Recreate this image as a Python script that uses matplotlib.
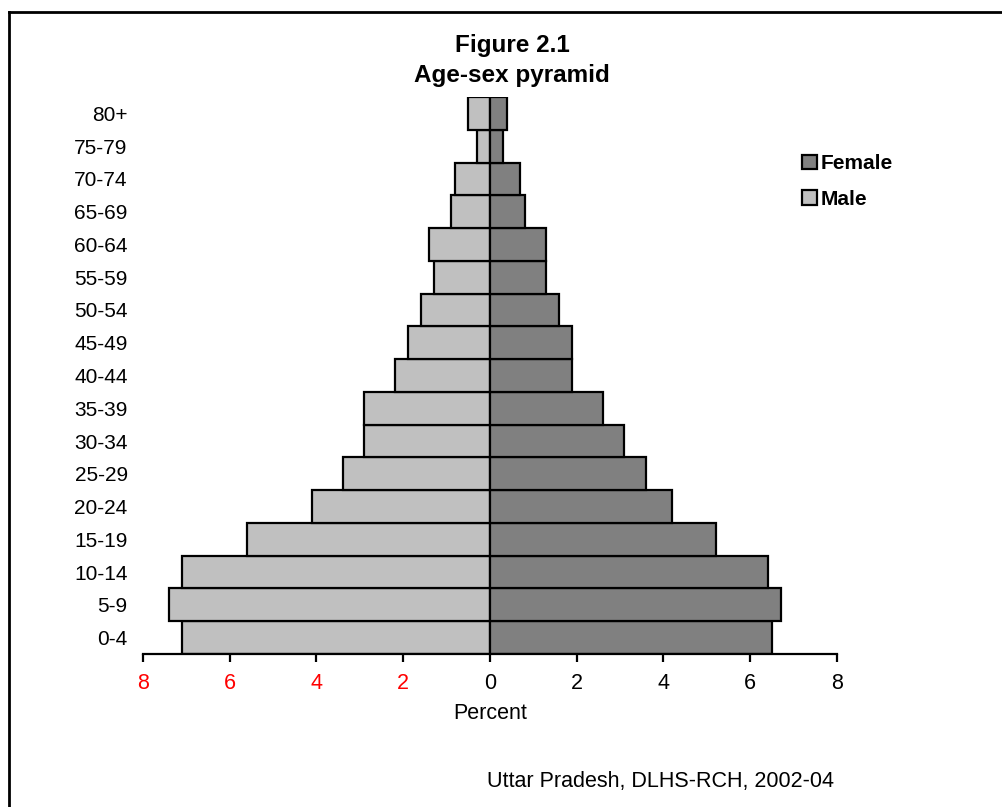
import matplotlib.pyplot as plt
from matplotlib.lines import Line2D

plt.rcParams["font.family"] = ["Liberation Sans", "DejaVu Sans"]

AGE_GROUPS = ["0-4", "5-9", "10-14", "15-19", "20-24", "25-29", "30-34",
              "35-39", "40-44", "45-49", "50-54", "55-59", "60-64",
              "65-69", "70-74", "75-79", "80+"]
MALE = [7.1, 7.4, 7.1, 5.6, 4.1, 3.4, 2.9, 2.9, 2.2, 1.9, 1.6, 1.3, 1.4,
        0.9, 0.8, 0.3, 0.5]
FEMALE = [6.5, 6.7, 6.4, 5.2, 4.2, 3.6, 3.1, 2.6, 1.9, 1.9, 1.6, 1.3, 1.3,
          0.8, 0.7, 0.3, 0.4]
X_TICKS = [-8, -6, -4, -2, 0, 2, 4, 6, 8]

MALE_COLOR = "#c0c0c0"
FEMALE_COLOR = "#808080"


def main():
    fig = plt.figure(figsize=(10.02, 8.07), dpi=100)
    ax = fig.add_axes([0.1427, 0.1896, 0.6926, 0.6902])

    ypos = list(range(len(AGE_GROUPS)))
    ax.barh(ypos, [-v for v in MALE], height=1.0, color=MALE_COLOR,
            edgecolor="black", linewidth=1.6, label="Male")
    ax.barh(ypos, FEMALE, height=1.0, color=FEMALE_COLOR,
            edgecolor="black", linewidth=1.6, label="Female")

    ax.set_xlim(-8, 8)
    ax.set_ylim(-0.5, len(AGE_GROUPS) - 0.5)
    ax.set_yticks(ypos)
    ax.set_yticklabels(AGE_GROUPS, fontsize=15)
    ax.tick_params(axis="y", length=0, pad=11)

    ax.set_xticks(X_TICKS)
    ax.set_xticklabels([str(abs(t)) for t in X_TICKS], fontsize=15.5)
    for lbl, t in zip(ax.get_xticklabels(), X_TICKS):
        lbl.set_color("red" if t < 0 else "black")
    ax.tick_params(axis="x", direction="out", length=6, width=1.6, pad=8)
    ax.set_xlabel("Percent", fontsize=15.5, labelpad=6)

    for side in ("left", "right", "top"):
        ax.spines[side].set_visible(False)
    ax.spines["bottom"].set_linewidth(1.6)

    handles, labels = ax.get_legend_handles_labels()
    leg = ax.legend(handles[::-1], labels[::-1], loc="upper left",
                    bbox_to_anchor=(0.937, 0.912), frameon=False,
                    handlelength=0.72, handleheight=0.72, handletextpad=0.2,
                    labelspacing=0.8, borderaxespad=0,
                    prop={"size": 15, "weight": "bold"})
    for patch in leg.get_patches():
        patch.set_linewidth(1.6)

    fig.text(0.511, 0.944, "Figure 2.1", ha="center", va="center",
             fontsize=17.5, fontweight="bold")
    fig.text(0.511, 0.907, "Age-sex pyramid", ha="center", va="center",
             fontsize=17.5, fontweight="bold")
    fig.text(0.6587, 0.031, "Uttar Pradesh, DLHS-RCH, 2002-04",
             ha="center", va="center", fontsize=15.5)

    # page border: top and left edges only
    fig.add_artist(Line2D([0.009, 1.0], [0.985, 0.985], color="black",
                          linewidth=2, transform=fig.transFigure))
    fig.add_artist(Line2D([0.009, 0.009], [0.0, 0.985], color="black",
                          linewidth=2, transform=fig.transFigure))

    fig.savefig("out.png", dpi=100)
    plt.close(fig)


if __name__ == "__main__":
    main()
